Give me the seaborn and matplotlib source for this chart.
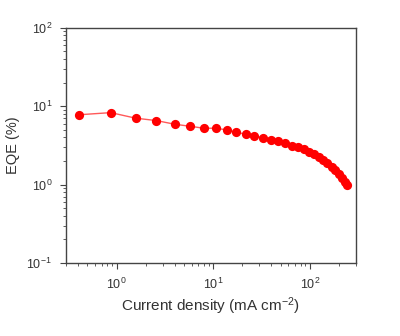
import matplotlib
matplotlib.use("Agg")
import matplotlib.pyplot as plt
import matplotlib.ticker as mticker
import numpy as np
import pandas as pd
import seaborn as sns

# Current density (mA cm^-2) and external quantum efficiency (%)
current_density = [0.41, 0.87, 1.58, 2.59, 4.0, 5.77, 8.0, 10.6, 13.8, 17.4,
                   21.7, 26.7, 32.8, 39.4, 46.9, 55, 65, 74.5, 86, 98,
                   110, 124, 137, 152, 168, 184, 199, 215, 233, 245]
eqe = [7.8, 8.3, 7.05, 6.57, 5.9, 5.56, 5.25, 5.25, 5.0, 4.67,
       4.4, 4.19, 3.98, 3.76, 3.58, 3.37, 3.15, 3.0, 2.83, 2.64,
       2.44, 2.26, 2.07, 1.88, 1.7, 1.54, 1.37, 1.22, 1.09, 1.0]

df = pd.DataFrame({"j": current_density, "eqe": eqe})

sns.set_style("ticks")
plt.rcParams["font.family"] = ["Liberation Sans", "DejaVu Sans"]
plt.rcParams["mathtext.fontset"] = "custom"
plt.rcParams["mathtext.rm"] = "Liberation Sans"
plt.rcParams["mathtext.it"] = "Liberation Sans:italic"

fig = plt.figure(figsize=(4.0, 3.36), dpi=100)
ax = fig.add_axes([0.165, 0.217, 0.725, 0.700])

# connecting line (slightly translucent) and solid markers
sns.lineplot(data=df, x="j", y="eqe", ax=ax, color="#ff3030", linewidth=1.0,
             alpha=0.8, estimator=None, sort=False)
sns.scatterplot(data=df, x="j", y="eqe", ax=ax, color="#ff0000", s=44,
                linewidth=0, zorder=3)

ax.set_xscale("log")
ax.set_yscale("log")
ax.set_xlim(0.3, 300)
ax.set_ylim(0.1, 100)

ax.xaxis.set_major_locator(mticker.LogLocator(base=10, numticks=10))
ax.xaxis.set_minor_locator(mticker.LogLocator(base=10, subs=np.arange(2, 10), numticks=20))
ax.yaxis.set_major_locator(mticker.LogLocator(base=10, numticks=10))
ax.yaxis.set_minor_locator(mticker.LogLocator(base=10, subs=np.arange(2, 10), numticks=20))
ax.xaxis.set_minor_formatter(mticker.NullFormatter())
ax.yaxis.set_minor_formatter(mticker.NullFormatter())

text_color = "#333333"
for s in ax.spines.values():
    s.set_color("#444444")
    s.set_linewidth(1.0)
    s.set_visible(True)

ax.tick_params(which="major", direction="out", length=4, width=0.8,
               color="#444444", labelsize=9, labelcolor=text_color, pad=6)
ax.tick_params(which="minor", direction="out", length=2, width=0.6, color="#444444")
ax.tick_params(top=False, right=False, which="both")

ax.set_xlabel("Current density (mA cm$^{-2}$)", fontsize=11, color=text_color, labelpad=2)
ax.set_ylabel("EQE (%)", fontsize=10.5, color=text_color, labelpad=5)

fig.savefig("out.png", dpi=100, facecolor="white")
